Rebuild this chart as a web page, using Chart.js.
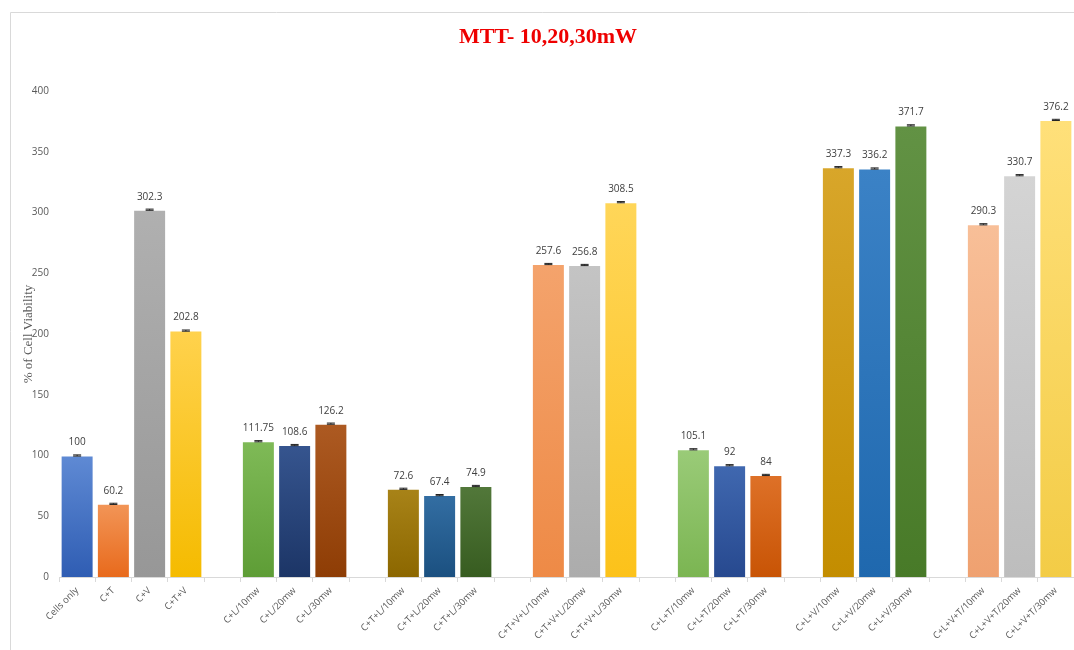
<!DOCTYPE html>
<html>
<head>
<meta charset="utf-8">
<title>MTT- 10,20,30mW</title>
<script src="https://cdn.jsdelivr.net/npm/chart.js@4.4.1/dist/chart.umd.min.js"></script>
<style>
  html, body { margin: 0; padding: 0; background: #fff; }
  #wrap { width: 1074px; height: 650px; position: relative; }
</style>
</head>
<body>
<div id="wrap"><canvas id="mttChart"></canvas></div>
<script>
// Groups are separated by empty slots ('' label, null value)
const groups = [
    'Cells only', 'C+T', 'C+V', 'C+T+V', '',
    'C+L/10mw', 'C+L/20mw', 'C+L/30mw', '',
    'C+T+L/10mw', 'C+T+L/20mw', 'C+T+L/30mw', '',
    'C+T+V+L/10mw', 'C+T+V+L/20mw', 'C+T+V+L/30mw', '',
    'C+L+T/10mw', 'C+L+T/20mw', 'C+L+T/30mw', '',
    'C+L+V/10mw', 'C+L+V/20mw', 'C+L+V/30mw', '',
    'C+L+V+T/10mw', 'C+L+V+T/20mw', 'C+L+V+T/30mw'
];
const viability = [
    100, 60.2, 302.3, 202.8, null,
    111.75, 108.6, 126.2, null,
    72.6, 67.4, 74.9, null,
    257.6, 256.8, 308.5, null,
    105.1, 92, 84, null,
    337.3, 336.2, 371.7, null,
    290.3, 330.7, 376.2
];
const errors = [
    0.5, 0.5, 0.5, 0.5, null,
    0.5, 0.5, 0.5, null,
    0.5, 0.5, 0.5, null,
    0.5, 0.5, 0.5, null,
    0.5, 0.5, 0.5, null,
    0.5, 0.5, 0.5, null,
    0.5, 0.5, 0.5
];
const yTicks = [0, 50, 100, 150, 200, 250, 300, 350, 400];

// [top, bottom] shades for each bar's gradient
const barShades = [
    ['#5f8ad4', '#2f5db3'], ['#f29557', '#e86a1c'], ['#b0b0b0', '#979797'], ['#ffd24d', '#f5bb00'], null,
    ['#7fba57', '#5e9d36'], ['#36558f', '#1c3566'], ['#ad5a22', '#8e3d05'], null,
    ['#a88318', '#8c6700'], ['#336ea3', '#1b5080'], ['#52783a', '#375c20'], null,
    ['#f4a36c', '#ee8a46'], ['#c4c4c4', '#acacac'], ['#ffd659', '#fcc21a'], null,
    ['#9acb78', '#7bb552'], ['#4068b0', '#27498f'], ['#de7128', '#c85405'], null,
    ['#d8a62a', '#c38d00'], ['#3b82c6', '#1f68ae'], ['#629244', '#487a28'], null,
    ['#f8bf98', '#efa170'], ['#d4d4d4', '#bdbdbd'], ['#ffe07a', '#f3cc46']
];

function barFill(context) {
    const i = context.dataIndex;
    const shade = barShades[i];
    if (!shade) return 'rgba(0,0,0,0)';
    const chart = context.chart;
    const y = chart.scales.y;
    if (!chart.chartArea || !y) return shade[1];
    const top = y.getPixelForValue(viability[i]);
    const bottom = y.getPixelForValue(0);
    const g = chart.ctx.createLinearGradient(0, top, 0, bottom);
    g.addColorStop(0, shade[0]);
    g.addColorStop(1, shade[1]);
    return g;
}

// frame, title, error caps and value labels
const decorations = {
    id: 'decorations',
    beforeDraw(chart) {
        const ctx = chart.ctx;
        ctx.save();
        ctx.strokeStyle = '#d9d9d9';
        ctx.lineWidth = 1;
        ctx.beginPath();
        ctx.moveTo(10.5, chart.height);
        ctx.lineTo(10.5, 12.5);
        ctx.lineTo(chart.width, 12.5);
        ctx.stroke();
        ctx.restore();
    },
    afterDatasetsDraw(chart) {
        const ctx = chart.ctx;
        const meta = chart.getDatasetMeta(0);
        const y = chart.scales.y;
        ctx.save();
        meta.data.forEach((bar, i) => {
            const v = viability[i];
            if (v === null) return;
            const e = errors[i];
            const yHi = y.getPixelForValue(v + e);
            const yLo = y.getPixelForValue(v - e);
            ctx.strokeStyle = '#222';
            ctx.lineWidth = 1;
            ctx.beginPath();
            ctx.moveTo(bar.x, yHi);
            ctx.lineTo(bar.x, yLo);
            ctx.moveTo(bar.x - 4, yHi);
            ctx.lineTo(bar.x + 4, yHi);
            ctx.moveTo(bar.x - 4, yLo);
            ctx.lineTo(bar.x + 4, yLo);
            ctx.stroke();

            ctx.fillStyle = '#404040';
            ctx.font = '10px "Open Sans", sans-serif';
            ctx.textAlign = 'center';
            ctx.textBaseline = 'middle';
            ctx.fillText(String(v), bar.x, y.getPixelForValue(v) - 13);
        });

        ctx.fillStyle = '#ee0000';
        ctx.font = 'bold 22px "Liberation Serif", serif';
        ctx.textAlign = 'center';
        ctx.textBaseline = 'middle';
        ctx.fillText('MTT- 10,20,30mW', 548, 37);
        ctx.restore();
    }
};

new Chart(document.getElementById('mttChart'), {
    type: 'bar',
    data: {
        labels: groups,
        datasets: [{
            label: '% of Cell Viability',
            data: viability,
            backgroundColor: barFill,
            borderColor: 'rgba(255,255,255,0.7)',
            borderWidth: 1,
            barPercentage: 0.91,
            categoryPercentage: 1.0
        }]
    },
    options: {
        responsive: true,
        maintainAspectRatio: false,
        animation: false,
        layout: { padding: { left: 21, right: 0, top: 91, bottom: 0 } },
        plugins: {
            legend: { display: false },
            title: { display: false },
            tooltip: { enabled: false }
        },
        scales: {
            x: {
                afterFit: (scale) => { scale.height = 73; },
                grid: {
                    offset: true,
                    drawOnChartArea: false,
                    drawTicks: true,
                    tickLength: 5,
                    color: '#d9d9d9'
                },
                border: { color: '#d9d9d9' },
                ticks: {
                    autoSkip: false,
                    maxRotation: 45,
                    minRotation: 45,
                    color: '#595959',
                    font: { family: '"Open Sans", sans-serif', size: 9.5 }
                }
            },
            y: {
                min: 0,
                max: 400,
                afterFit: (scale) => { scale.width = 38; },
                afterBuildTicks: (scale) => { scale.ticks = yTicks.map(v => ({ value: v })); },
                grid: { display: false },
                border: { display: false },
                title: {
                    display: true,
                    text: '% of Cell Viability',
                    color: '#595959',
                    font: { family: '"Liberation Serif", serif', size: 13 },
                    padding: { top: 0, bottom: 0 }
                },
                ticks: {
                    color: '#595959',
                    padding: 2,
                    font: { family: '"Open Sans", sans-serif', size: 10 }
                }
            }
        }
    },
    plugins: [decorations]
});
</script>
</body>
</html>
